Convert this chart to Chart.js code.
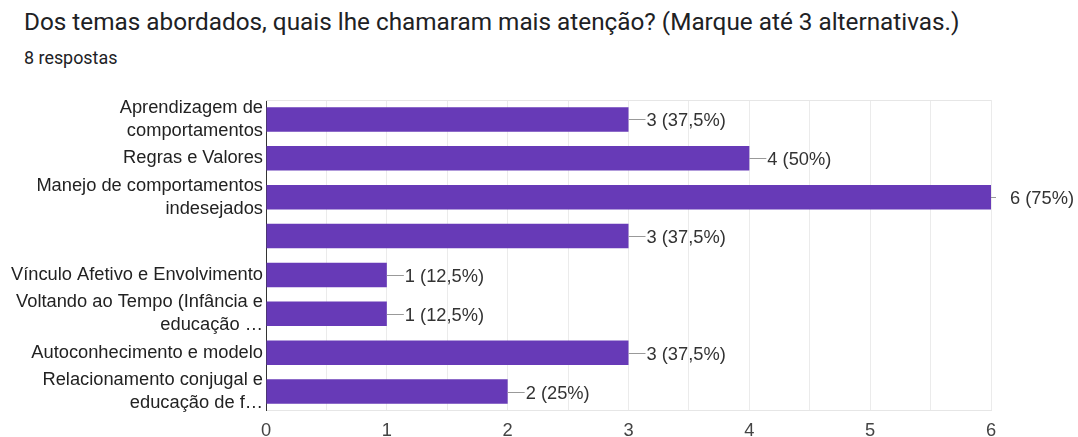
<!DOCTYPE html>
<html lang="pt">
<head>
  <meta charset="UTF-8">
  <title>Dos temas abordados</title>
  <script src="https://cdn.jsdelivr.net/npm/chart.js"></script>
  <style>
    body { margin: 0; background: #fff; }
    .title {
      position: absolute; left: 24px; top: 7px;
      font-family: Roboto, sans-serif; font-size: 24.3px; color: #202124;
    }
    .sub {
      position: absolute; left: 24px; top: 47px;
      font-family: Roboto, sans-serif; font-size: 17.9px; color: #202124;
    }
    #wrap { position: absolute; left: 0; top: 0; width: 1078px; height: 437px; }
  </style>
</head>
<body>
  <div class="title">Dos temas abordados, quais lhe chamaram mais atenção? (Marque até 3 alternativas.)</div>
  <div class="sub">8 respostas</div>
  <div id="wrap"><canvas id="chart"></canvas></div>

  <script>
    var temas = [
      ["Aprendizagem de", "comportamentos"],
      "Regras e Valores",
      ["Manejo de comportamentos", "indesejados"],
      "",
      "Vínculo Afetivo e Envolvimento",
      ["Voltando ao Tempo (Infância e", "educação …"],
      "Autoconhecimento e modelo",
      ["Relacionamento conjugal e", "educação de f…"]
    ];
    var respostas = [3, 4, 6, 3, 1, 1, 3, 2];
    var percentuais = ["37,5%", "50%", "75%", "37,5%", "12,5%", "12,5%", "37,5%", "25%"];
    var xTicks = [0, 1, 2, 3, 4, 5, 6];

    var fonte = "'Liberation Sans', Arial, sans-serif";

    // rótulos "3 (37,5%)" com a linha guia, estilo Google Forms
    var rotulos = {
      id: "rotulos",
      beforeDatasetsDraw: function (chart) {
        var a = chart.chartArea, c = chart.ctx;
        c.save();
        c.strokeStyle = "#e6e6e6";
        c.lineWidth = 1;
        c.beginPath();
        c.moveTo(a.left, a.top + 0.5);
        c.lineTo(a.right, a.top + 0.5);
        c.stroke();
        c.restore();
      },
      afterDatasetsDraw: function (chart) {
        var c = chart.ctx, a = chart.chartArea;
        var meta = chart.getDatasetMeta(0);
        c.save();
        c.font = "18.3px " + fonte;
        c.textBaseline = "middle";
        c.textAlign = "left";
        meta.data.forEach(function (bar, i) {
          var x = bar.x, y = Math.round(bar.y) + 0.5;
          var noFim = x >= a.right - 1;
          var linha = noFim ? 5 : 17;
          var gap = noFim ? 19 : 18;
          c.strokeStyle = "#999";
          c.lineWidth = 1;
          c.beginPath();
          c.moveTo(x, y);
          c.lineTo(x + linha, y);
          c.stroke();
          c.fillStyle = "#333";
          c.fillText(respostas[i] + " (" + percentuais[i] + ")", x + gap, y + 1);
        });
        c.restore();
      }
    };

    new Chart(document.getElementById("chart"), {
      type: "bar",
      data: {
        labels: temas,
        datasets: [{
          data: respostas,
          backgroundColor: "#673ab7",
          barPercentage: 0.63,
          categoryPercentage: 1
        }]
      },
      options: {
        indexAxis: "y",
        responsive: true,
        maintainAspectRatio: false,
        animation: false,
        layout: { padding: { top: 100, right: 87, left: 0, bottom: 0 } },
        plugins: { legend: { display: false }, tooltip: { enabled: false } },
        scales: {
          x: {
            min: 0, max: 6,
            afterBuildTicks: function (s) {
              var t = [];
              for (var i = 0; i < xTicks.length; i++) {
                t.push({ value: xTicks[i] });
                if (i < xTicks.length - 1) t.push({ value: xTicks[i] + 0.5 });
              }
              s.ticks = t;
            },
            afterFit: function (s) { s.height = 26; },
            grid: { color: "#ebebeb", drawTicks: false },
            border: { color: "#e6e6e6" },
            ticks: {
              autoSkip: false,
              maxRotation: 0,
              padding: 9,
              color: "#444",
              font: { family: fonte, size: 18.3 },
              callback: function (v) { return v % 1 === 0 ? v : ""; }
            }
          },
          y: {
            afterFit: function (s) { s.width = 266; },
            grid: { display: false, drawTicks: false },
            border: { color: "#333", width: 1 },
            ticks: {
              autoSkip: false,
              padding: 3,
              color: "#222",
              font: { family: fonte, size: 18.3, lineHeight: 1.26 }
            }
          }
        }
      },
      plugins: [rotulos]
    });
  </script>
</body>
</html>
